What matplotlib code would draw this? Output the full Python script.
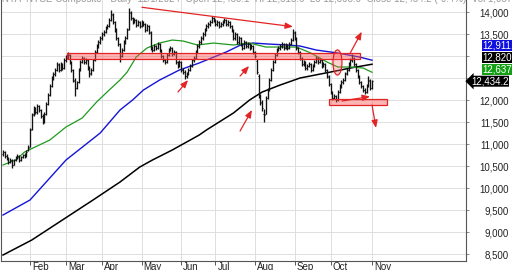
import matplotlib

matplotlib.use("Agg")
import matplotlib.pyplot as plt
import matplotlib.transforms as mtransforms
from matplotlib.patches import Ellipse, Rectangle
from matplotlib.ticker import FuncFormatter
import numpy as np

# daily OHLC, one value per trading day (index 0 = first bar in January)
opens = [
    10780, 10820, 10740, 10680, 10600, 10640, 10540, 10650, 10690, 10730,
    10650, 10710, 10760, 10740, 10880, 10950, 11350, 11680, 11820, 11740,
    11860, 11770, 11640, 11520, 11700, 11920, 12130, 12330, 12510, 12600,
    12700, 12810, 12700, 12820, 12740, 12920, 12990, 13020, 12860, 12680,
    12450, 12290, 12420, 12700, 12880, 12950, 12870, 12910, 12730, 12610,
    12700, 12920, 13100, 13240, 13330, 13420, 13510, 13560, 13650, 13700,
    13830, 13950, 13770, 13590, 13410, 13270, 13010, 13150, 13330, 13420,
    13620, 13990, 13860, 13780, 13820, 13710, 13780, 13700, 13780, 13730,
    13600, 13680, 13540, 13190, 13150, 13230, 13200, 13270, 13140, 13000,
    12910, 12880, 13030, 13150, 13180, 13060, 13090, 12860, 12790, 12860,
    12690, 12640, 12560, 12610, 12700, 12790, 12910, 12970, 13110, 13240,
    13330, 13420, 13510, 13610, 13690, 13740, 13790, 13870, 13820, 13740,
    13780, 13700, 13740, 13790, 13820, 13740, 13780, 13680, 13590, 13420,
    13500, 13330, 13410, 13270, 13200, 13320, 13240, 13270, 13200, 13230,
    13090, 12900, 12560, 12100, 11950, 11700, 11700, 12060, 12250, 12470,
    12700, 12880, 13040, 13150, 13190, 13240, 13280, 13200, 13250, 13200,
    13290, 13380, 13540, 13400, 13180, 13090, 12950, 12830, 12860, 12740,
    12790, 12820, 12700, 12790, 12880, 12950, 12880, 12910, 12790, 12820,
    12680, 12540, 12360, 12180, 12060, 12090, 12010, 12200, 12330, 12420,
    12470, 12610, 12700, 12830, 12920, 12950, 12820, 12680, 12540, 12410,
    12320, 12230, 12200, 12330, 12450, 12290,
]
highs = [
    10880, 10850, 10780, 10720, 10690, 10660, 10670, 10730, 10780, 10750,
    10740, 10790, 10800, 10860, 10990, 11360, 11720, 11880, 11850, 11910,
    11890, 11800, 11680, 11730, 11960, 12170, 12370, 12550, 12640, 12730,
    12870, 12840, 12870, 12850, 12960, 13040, 13090, 13050, 12900, 12720,
    12500, 12450, 12730, 12910, 13010, 12990, 12960, 12940, 12770, 12730,
    12950, 13140, 13280, 13370, 13460, 13550, 13600, 13690, 13740, 13870,
    14050, 13990, 13810, 13640, 13450, 13300, 13190, 13370, 13460, 13640,
    14100, 14030, 13900, 13880, 13850, 13830, 13810, 13820, 13800, 13760,
    13730, 13710, 13570, 13240, 13280, 13260, 13320, 13300, 13170, 13040,
    12950, 13070, 13190, 13240, 13210, 13140, 13120, 12900, 12910, 12890,
    12730, 12680, 12650, 12730, 12820, 12950, 13000, 13140, 13280, 13370,
    13460, 13550, 13640, 13730, 13780, 13820, 13920, 13900, 13850, 13830,
    13810, 13780, 13830, 13870, 13850, 13830, 13800, 13710, 13620, 13550,
    13530, 13460, 13440, 13300, 13370, 13350, 13320, 13300, 13280, 13260,
    13120, 12930, 12600, 12140, 12000, 11800, 12100, 12280, 12510, 12730,
    12910, 13070, 13190, 13230, 13280, 13320, 13310, 13300, 13280, 13320,
    13410, 13620, 13580, 13430, 13210, 13120, 12990, 12920, 12890, 12830,
    12870, 12850, 12820, 12910, 13000, 12980, 12960, 12940, 12870, 12850,
    12710, 12570, 12390, 12210, 12150, 12120, 12230, 12370, 12460, 12500,
    12640, 12730, 12870, 12960, 13050, 12980, 12850, 12710, 12570, 12440,
    12350, 12280, 12370, 12560, 12480, 12470,
]
lows = [
    10740, 10700, 10650, 10560, 10570, 10460, 10520, 10620, 10660, 10600,
    10620, 10680, 10690, 10720, 10850, 10930, 11320, 11640, 11690, 11700,
    11740, 11600, 11460, 11490, 11670, 11890, 12100, 12300, 12470, 12560,
    12660, 12640, 12660, 12690, 12710, 12880, 12950, 12830, 12640, 12420,
    12100, 12250, 12390, 12660, 12840, 12820, 12830, 12700, 12540, 12570,
    12670, 12890, 13070, 13200, 13290, 13380, 13470, 13520, 13610, 13660,
    13800, 13740, 13560, 13380, 13240, 12880, 12980, 13120, 13290, 13390,
    13600, 13830, 13740, 13750, 13670, 13680, 13650, 13660, 13690, 13560,
    13570, 13510, 13140, 13090, 13120, 13140, 13170, 13100, 12960, 12870,
    12820, 12850, 13000, 13110, 13000, 13020, 12830, 12740, 12760, 12650,
    12600, 12480, 12510, 12580, 12660, 12760, 12870, 12940, 13080, 13200,
    13290, 13380, 13470, 13570, 13650, 13700, 13750, 13780, 13690, 13700,
    13650, 13660, 13700, 13750, 13690, 13700, 13650, 13560, 13370, 13380,
    13280, 13290, 13240, 13150, 13170, 13190, 13200, 13150, 13160, 13060,
    12960, 12600, 12060, 11900, 11760, 11500, 11680, 12020, 12220, 12440,
    12670, 12850, 13000, 13110, 13150, 13200, 13150, 13160, 13150, 13160,
    13250, 13350, 13380, 13150, 13050, 12910, 12780, 12790, 12690, 12700,
    12750, 12650, 12660, 12750, 12840, 12830, 12840, 12740, 12750, 12650,
    12510, 12330, 12150, 12000, 12020, 11960, 11990, 12170, 12290, 12380,
    12440, 12570, 12660, 12790, 12880, 12780, 12650, 12510, 12370, 12280,
    12190, 12140, 12170, 12300, 12240, 12260,
]
closes = [
    10825, 10735, 10690, 10600, 10645, 10530, 10645, 10690, 10735, 10645,
    10710, 10755, 10735, 10825, 10915, 11325, 11665, 11825, 11735, 11870,
    11780, 11645, 11505, 11690, 11915, 12120, 12325, 12505, 12600, 12690,
    12825, 12690, 12825, 12735, 12915, 12985, 13030, 12870, 12690, 12460,
    12280, 12415, 12690, 12870, 12960, 12870, 12915, 12735, 12600, 12690,
    12915, 13100, 13235, 13325, 13415, 13505, 13555, 13645, 13690, 13825,
    13960, 13780, 13600, 13415, 13280, 13005, 13145, 13325, 13415, 13600,
    14005, 13870, 13780, 13825, 13710, 13780, 13690, 13780, 13735, 13600,
    13690, 13555, 13190, 13145, 13235, 13190, 13280, 13145, 13005, 12915,
    12870, 13030, 13145, 13190, 13050, 13100, 12870, 12780, 12870, 12690,
    12645, 12550, 12600, 12690, 12780, 12915, 12960, 13100, 13235, 13325,
    13415, 13505, 13600, 13690, 13735, 13780, 13870, 13825, 13735, 13780,
    13690, 13735, 13780, 13825, 13735, 13780, 13690, 13600, 13415, 13505,
    13325, 13415, 13280, 13190, 13325, 13235, 13280, 13190, 13235, 13100,
    13005, 12645, 12120, 11960, 11825, 11665, 12050, 12235, 12460, 12690,
    12870, 13030, 13145, 13190, 13235, 13280, 13190, 13255, 13190, 13280,
    13370, 13550, 13415, 13190, 13100, 12960, 12825, 12870, 12735, 12780,
    12825, 12690, 12780, 12870, 12960, 12870, 12915, 12780, 12825, 12690,
    12550, 12370, 12190, 12050, 12100, 12005, 12190, 12325, 12415, 12460,
    12600, 12690, 12825, 12915, 12960, 12825, 12690, 12550, 12415, 12325,
    12235, 12190, 12325, 12460, 12280, 12434.2,
]

# moving averages (bar index, value)
ma_green_idx = [0, 7, 12, 26, 35, 44, 52, 59, 65, 69, 74, 80, 87, 94, 100, 108,
                117, 128, 137, 146, 158, 163, 171, 180, 186, 193, 200, 205]
ma_green = [10530, 10643, 10825, 11097, 11393, 11598, 11961, 12234, 12461, 12643,
            12984, 13189, 13302, 13370, 13348, 13257, 13302, 13257, 13302, 13211,
            13211, 13211, 13075, 12870, 12757, 12757, 12734, 12637.3]
ma_blue_idx = [0, 15, 35, 54, 65, 72, 78, 87, 98, 109, 124, 132, 139, 147, 158,
               165, 174, 186, 198, 205]
ma_blue = [9393, 9734, 10643, 11257, 11780, 12007, 12234, 12461, 12689, 12848,
           13098, 13257, 13302, 13280, 13257, 13234, 13143, 13075, 12984, 12911.9]
ma_black_idx = [0, 16, 50, 65, 76, 83, 94, 109, 113, 128, 137, 144, 154, 165,
                182, 193, 205]
ma_black = [8484, 8825, 9734, 10143, 10484, 10643, 10870, 11211, 11325, 11711,
            12007, 12189, 12348, 12507, 12643, 12734, 12820.1]

month_idx = [15, 35, 55, 77, 99, 118, 140, 162, 182, 205]
month_names = ["Feb", "Mar", "Apr", "May", "Jun", "Jul", "Aug", "Sep", "Oct", "Nov"]
price_ticks = [8500, 9000, 9500, 10000, 10500, 11000, 11500, 12000, 12500,
               13000, 13500, 14000]

# hand-drawn markup (bar index, price)
trend_line = ((77.2, 14114), (161.1, 13673))
upper_zone = (35.6, 198.3, 12930, 13075)
lower_zone = (181.1, 213.3, 11893, 12030)
marker_oval = (185.8, 12860, 5.0, 570)
markup_arrows = [
    ((97.2, 12189), (102.8, 12461)),
    ((131.7, 12552), (136.7, 12780)),
    ((131.7, 11302), (138.3, 11780)),
    ((192.8, 13068), (199.3, 13559)),
    ((188.3, 11984), (203.9, 12087)),
    ((205.0, 11893), (207.2, 11371)),
]

title = ("NYA  NYSE Composite - Daily  11/1/2024  Open 12,480.1  Hi 12,515.6  "
         "Lo 12,398.0  Close 12,434.2 (-0.4%)  Vol 1,057,316,224")

plt.rcParams["font.family"] = ["Liberation Sans", "DejaVu Sans"]
plt.rcParams["font.size"] = 7

RED = "#e32424"

fig = plt.figure(figsize=(5.12, 2.70), dpi=100)
ax = fig.add_axes([1 / 512, 9 / 270, 465 / 512, 261 / 270])
ax.set_xlim(-1.1, 257.2)
ax.set_ylim(8348, 14280)

ax.grid(True, color="#dedede", lw=0.7)
ax.set_axisbelow(True)

ax.plot(ma_black_idx, ma_black, color="black", lw=1.1, zorder=2)
ax.plot(ma_blue_idx, ma_blue, color="#1414d8", lw=1.0, zorder=2)
ax.plot(ma_green_idx, ma_green, color="#1e9a1e", lw=0.9, zorder=2)

idx = np.arange(len(closes))
ax.vlines(idx, lows, highs, color="#111111", lw=0.95, zorder=3)
ax.hlines(opens, idx - 0.55, idx, color="#111111", lw=0.8, zorder=3)
ax.hlines(closes, idx, idx + 0.55, color="#111111", lw=0.8, zorder=3)

zone_style = dict(facecolor=(1.0, 0.35, 0.35, 0.45), edgecolor=RED, lw=0.9, zorder=4)
for x0, x1, lo, hi in (upper_zone, lower_zone):
    ax.add_patch(Rectangle((x0, lo), x1 - x0, hi - lo, **zone_style))
cx, cy, w, h = marker_oval
ax.add_patch(Ellipse((cx, cy), w, h, facecolor=(1.0, 0.4, 0.4, 0.3),
                     edgecolor=RED, lw=0.9, zorder=4))

arrow_props = dict(arrowstyle="-|>,head_length=0.45,head_width=0.18", color=RED,
                   lw=0.9, shrinkA=0, shrinkB=0, mutation_scale=10)
ax.annotate("", xy=trend_line[1], xytext=trend_line[0], arrowprops=arrow_props,
            zorder=5)
for start, end in markup_arrows:
    ax.annotate("", xy=end, xytext=start, arrowprops=arrow_props, zorder=5)

# axes styling
for side in ("left", "right", "bottom"):
    ax.spines[side].set_color("#555555")
    ax.spines[side].set_linewidth(0.8)
ax.spines["top"].set_visible(False)

ax.yaxis.tick_right()
ax.set_yticks(price_ticks)
ax.yaxis.set_major_formatter(FuncFormatter(lambda v, _: f"{v:,.0f}"))
ax.tick_params(axis="y", length=2.2, width=0.7, color="#888888", pad=28.8,
               labelsize=7, labelcolor="#222222")
plt.setp(ax.get_yticklabels(), ha="right")

ax.set_xticks(month_idx)
ax.set_xticklabels(month_names, ha="left")
ax.tick_params(axis="x", length=2.9, width=0.7, color="#555555", pad=-2.2,
               labelsize=7, labelcolor="#222222")
shift = mtransforms.ScaledTranslation(0.02, 0, fig.dpi_scale_trans)
for lab in ax.get_xticklabels():
    lab.set_transform(lab.get_transform() + shift)

# last-value tags stacked on the right axis
px = (14280 - 8348) / 261.0
tag_h = 12.0 * px
tags = sorted(
    [(closes[-1], "black", True), (ma_green[-1], "#14a014", False),
     (ma_black[-1], "black", False), (ma_blue[-1], "#1010e0", False)],
    key=lambda t: t[0],
)
trans = mtransforms.blended_transform_factory(ax.transAxes, ax.transData)
prev = None
tag_spans = []
for value, colour, is_close in tags:
    pos = value if prev is None else max(value, prev + tag_h)
    prev = pos
    tag_spans.append((pos - tag_h / 2, pos + tag_h / 2))
    if is_close:
        ax.text((471 - 1) / 465, pos, f"{value:,.1f}", transform=trans, color="white",
                fontsize=7, va="center", ha="left", clip_on=False,
                bbox=dict(boxstyle="larrow,pad=0.05", fc=colour, ec="none"))
    else:
        ax.text((482 - 1) / 465, pos, f"{value:,.1f}", transform=trans, color="white",
                fontsize=7, va="center", ha="left", clip_on=False,
                bbox=dict(boxstyle="square,pad=0.05", fc=colour, ec="none"))

# price labels that sit under a value tag are hidden, as in the original
for tick, value in zip(ax.yaxis.get_major_ticks(), price_ticks):
    if any(lo - tag_h * 0.4 <= value <= hi + tag_h * 0.4 for lo, hi in tag_spans):
        tick.label2.set_visible(False)

fig.text(0.004, 1.0 + 1 / 270, title, va="center", ha="left", color="#9a9a9a",
         fontsize=7)

fig.savefig("out.png", dpi=100)
plt.close(fig)
